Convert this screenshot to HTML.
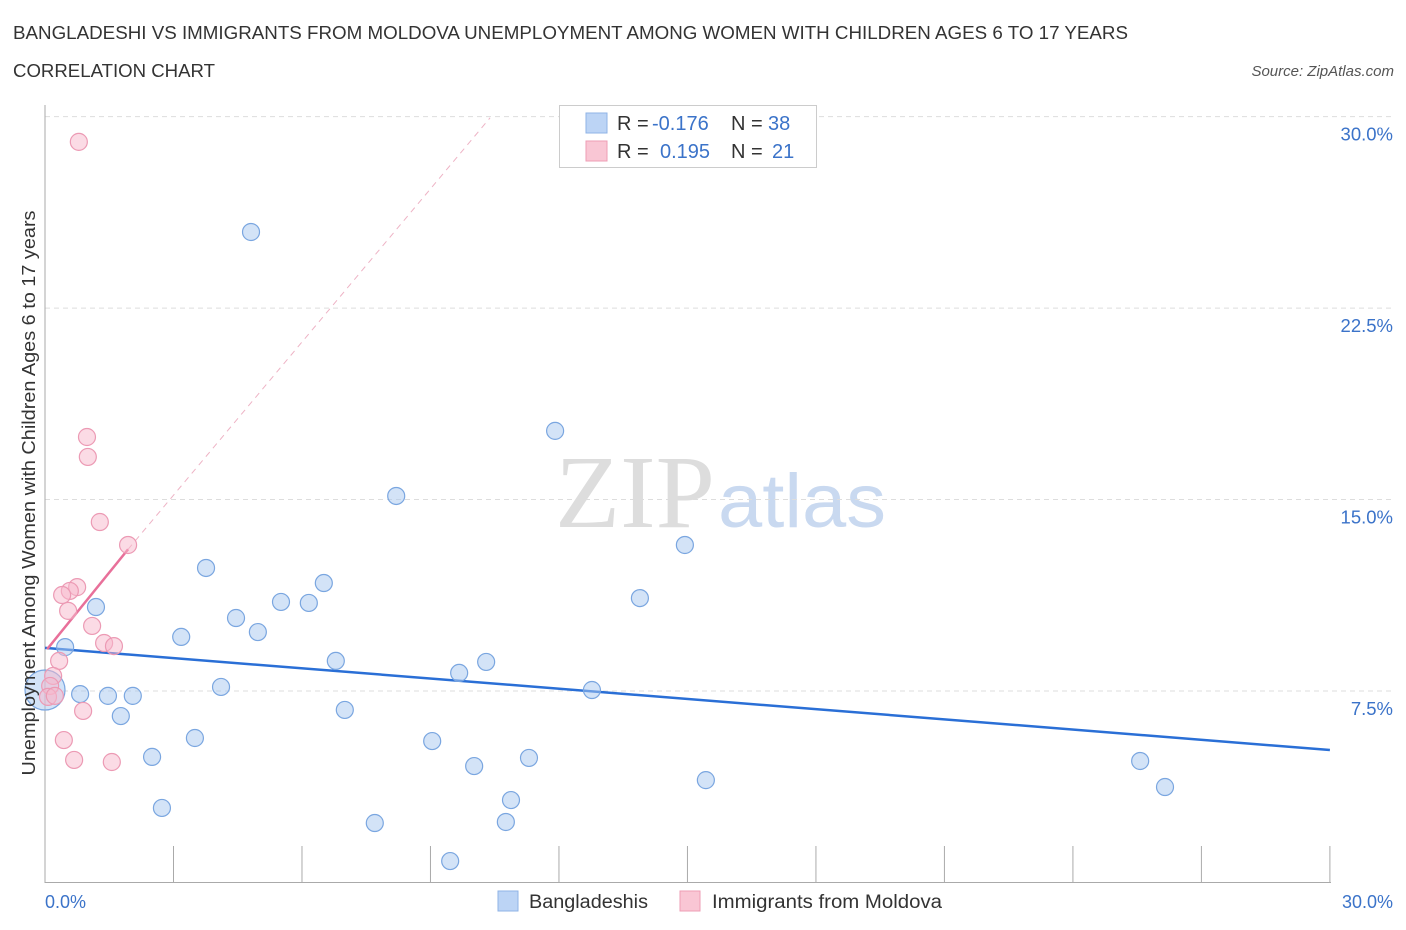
<!DOCTYPE html>
<html><head><meta charset="utf-8">
<style>
body{margin:0;background:#fff;font-family:"Liberation Sans",sans-serif;}
svg{display:block}
</style></head>
<body>
<svg id="chart" width="1406" height="930" xmlns="http://www.w3.org/2000/svg">
<text x="13" y="39" font-size="18" fill="#333" textLength="1115" lengthAdjust="spacingAndGlyphs">BANGLADESHI VS IMMIGRANTS FROM MOLDOVA UNEMPLOYMENT AMONG WOMEN WITH CHILDREN AGES 6 TO 17 YEARS</text>
<text x="13" y="77" font-size="18" fill="#333" textLength="202" lengthAdjust="spacingAndGlyphs">CORRELATION CHART</text>
<text x="1394" y="76" font-size="15" fill="#555" font-style="italic" text-anchor="end">Source: ZipAtlas.com</text>
<g>
<text x="555" y="527" font-size="104" fill="#ddd" font-family="Liberation Serif,serif" textLength="160" lengthAdjust="spacingAndGlyphs">ZIP</text>
<text x="718" y="527" font-size="76" fill="#c9d9f0" textLength="168" lengthAdjust="spacingAndGlyphs">atlas</text>
</g>
<g id="grid"></g>
<g id="axes"></g>
<g id="trends"></g>
<g id="points"></g>
<text transform="translate(35,493) rotate(-90)" font-size="18" fill="#333" text-anchor="middle" textLength="565" lengthAdjust="spacingAndGlyphs">Unemployment Among Women with Children Ages 6 to 17 years</text>
<text x="45" y="908" font-size="18" fill="#3b73c9">0.0%</text>
<text x="1393" y="908" font-size="18" fill="#3b73c9" text-anchor="end">30.0%</text>
<g>
<rect x="559.5" y="105.5" width="257" height="62" fill="#fff" stroke="#ccc"/>
<rect x="586" y="113" width="21" height="20" fill="#bcd4f5" stroke="#8fb3e6"/>
<rect x="586" y="141" width="21" height="20" fill="#f9c6d4" stroke="#ee9db5"/>
<text x="617" y="130" font-size="20" fill="#333">R = <tspan x="652" fill="#3b73c9">-0.176</tspan><tspan x="731">N = </tspan><tspan x="768" fill="#3b73c9">38</tspan></text>
<text x="617" y="158" font-size="20" fill="#333">R = <tspan x="660" fill="#3b73c9">0.195</tspan><tspan x="731">N = </tspan><tspan fill="#3b73c9" x="772">21</tspan></text>
</g>
<g>
<rect x="498" y="891" width="20" height="20" fill="#bcd4f5" stroke="#8fb3e6"/>
<text x="529" y="908" font-size="19" fill="#333" textLength="119" lengthAdjust="spacingAndGlyphs">Bangladeshis</text>
<rect x="680" y="891" width="20" height="20" fill="#f9c6d4" stroke="#ee9db5"/>
<text x="712" y="908" font-size="19" fill="#333" textLength="230" lengthAdjust="spacingAndGlyphs">Immigrants from Moldova</text>
</g>
</svg>
<script>
const yTicks=[7.5,15,22.5,30];
const yTickLabels=["7.5%","15.0%","22.5%","30.0%"];
const xTicks=[0,3,6,9,12,15,18,21,24,27,30];
const blueX=[4.81,11.91,8.20,14.94,3.76,6.51,13.89,1.19,5.51,6.16,4.46,3.18,4.97,0.47,6.79,9.67,10.30,12.77,4.11,0.82,1.47,2.05,1.77,7.00,3.50,9.04,2.50,11.30,10.02,25.57,15.43,26.15,10.88,2.73,7.70,10.76,9.46,0];
const blueY=[25.48,17.69,15.14,13.22,12.32,11.73,11.14,10.79,10.99,10.95,10.36,9.62,9.81,9.22,8.68,8.21,8.64,7.54,7.66,7.38,7.31,7.31,6.52,6.76,5.66,5.54,4.92,4.88,4.56,4.76,4.01,3.74,3.23,2.92,2.33,2.37,0.84,7.54];
const pinkX=[0.79,0.98,1.00,1.28,1.94,0.75,0.58,0.40,0.54,1.10,1.38,1.61,0.33,0.19,0.12,0.07,0.23,0.89,0.44,0.68,1.56];
const pinkY=[29.01,17.45,16.67,14.12,13.22,11.57,11.42,11.26,10.64,10.05,9.38,9.26,8.68,8.09,7.70,7.27,7.31,6.72,5.58,4.80,4.72];
const blueTrend=[[0,9.19],[30,5.19]];
const pinkTrend=[[0.05,9.14],[1.94,13.05]];
const pinkDash=[[1.94,13.05],[10.39,29.95]];
const X=v=>45+v*42.83, Y=v=>882.5-v*25.53;
const NS="http://www.w3.org/2000/svg";
function mk(tag,attrs,parent){const e=document.createElementNS(NS,tag);for(const k in attrs)e.setAttribute(k,attrs[k]);parent.appendChild(e);return e;}
const grid=document.getElementById('grid'),axes=document.getElementById('axes'),tr=document.getElementById('trends'),pts=document.getElementById('points');
yTicks.forEach((t,i)=>{
 const l=mk('line',{x1:45,x2:1393,y1:Y(t),y2:Y(t),stroke:'#ddd','stroke-dasharray':'5,4'},grid);
 
 
 const tx=mk('text',{x:1393,y:Y(t)+24,'font-size':18.5,fill:'#3b73c9','text-anchor':'end'},grid);
 tx.textContent=yTickLabels[i];
 
 
});
const ya=mk('line',{x1:45,x2:45,y1:105,y2:883,stroke:'#aaa'},axes);


const xa=mk('line',{x1:45,x2:1331,y1:882.5,y2:882.5,stroke:'#aaa'},axes);


xTicks.forEach(t=>{
 const l=mk('line',{x1:X(t),x2:X(t),y1:846,y2:883,stroke:'#aaa'},axes);
 
 
});
function line(p,attrs,name){const l=mk('line',Object.assign({x1:X(p[0][0]),y1:Y(p[0][1]),x2:X(p[1][0]),y2:Y(p[1][1])},attrs),tr);
 
 }
line(pinkDash,{stroke:'#eeb3c5','stroke-width':1,'stroke-dasharray':'6,5'},'moldova-trend-extension');
line(blueTrend,{stroke:'#2a6fd6','stroke-width':2.5},'bangladeshis-trendline');
line(pinkTrend,{stroke:'#e8709a','stroke-width':2.5},'moldova-trendline');
blueX.forEach((x,i)=>{
 const big=(i===blueX.length-1);
 const c=mk('circle',{cx:X(x),cy:Y(blueY[i]),r:big?20:8.5,fill:'rgba(168,199,240,0.5)',stroke:'#7aa6e0','stroke-width':1.2},pts);
 
 
});
pinkX.forEach((x,i)=>{
 const c=mk('circle',{cx:X(x),cy:Y(pinkY[i]),r:8.5,fill:'rgba(247,184,203,0.5)',stroke:'#ec9ab4','stroke-width':1.2},pts);
 
 
});
</script>
</body></html>
